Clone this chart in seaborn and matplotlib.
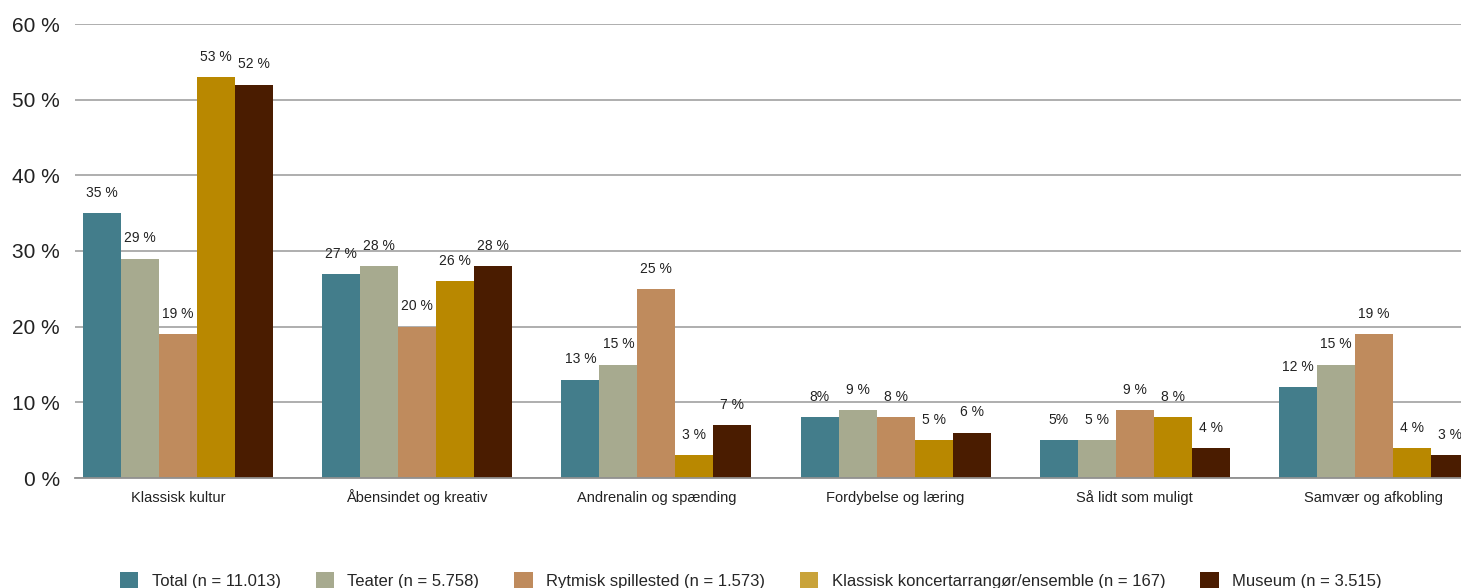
''' Motivation for kulturbesøg, fordelt på institutionstype '''

import matplotlib
matplotlib.use("Agg")
import matplotlib.pyplot as plt
from matplotlib.patches import Patch
import seaborn as sns
from pandas import DataFrame

categories = ["Klassisk kultur", "Åbensindet og kreativ", "Andrenalin og spænding",
              "Fordybelse og læring", "Så lidt som muligt", "Samvær og afkobling"]
groups = ["Total (n = 11.013)", "Teater (n = 5.758)", "Rytmisk spillested (n = 1.573)",
          "Klassisk koncertarrangør/ensemble (n = 167)", "Museum (n = 3.515)"]

total = [35, 27, 13, 8, 5, 12]
teater = [29, 28, 15, 9, 5, 15]
rytmisk = [19, 20, 25, 8, 9, 19]
klassisk = [53, 26, 3, 5, 8, 4]
museum = [52, 28, 7, 6, 4, 3]

# value labels as printed in the source (some lack the space)
total_labels = ["35 %", "27 %", "13 %", "8%", "5%", "12 %"]

bar_colors = ["#437d8b", "#a7aa8f", "#bf8b5d", "#b98800", "#4a1c00"]
legend_colors = ["#437d8b", "#a7aa8f", "#bf8b5d", "#c9a33a", "#4a1c00"]

y_ticks = [0, 10, 20, 30, 40, 50, 60]


def _main():
    series = [total, teater, rytmisk, klassisk, museum]
    rows = []
    for grp, vals in zip(groups, series):
        for cat, val in zip(categories, vals):
            rows.append({"kategori": cat, "gruppe": grp, "andel": val})
    data = DataFrame(rows)

    sns.set_style("white")
    plt.rcParams["font.family"] = ["Liberation Sans", "DejaVu Sans"]

    fig = plt.figure(figsize=(14.61, 5.88), dpi=100)
    ax = fig.add_axes([75 / 1461, 1 - 478 / 588, 1 - 75 / 1461, (478 - 24) / 588])

    sns.barplot(data=data, x="kategori", y="andel", hue="gruppe",
                order=categories, hue_order=groups, palette=bar_colors,
                saturation=1, width=0.795, gap=0, legend=False, ax=ax,
                linewidth=0, edgecolor="none", err_kws={"linewidth": 0})

    for idx, cont in enumerate(ax.containers):
        if idx == 0:
            labels = total_labels
        else:
            labels = [f"{v} %" for v in series[idx]]
        ax.bar_label(cont, labels=labels, padding=9.5, fontsize=10, color="#222222")

    ax.set_ylim(0, 60)
    ax.set_xlim(-0.431, 5.364)
    ax.set_yticks(y_ticks)
    ax.set_yticklabels([f"{t} %" for t in y_ticks], fontsize=15, color="#222222")
    ax.tick_params(axis="y", length=0, pad=11)
    ax.tick_params(axis="x", length=0, pad=17, labelsize=10.5, labelcolor="#222222")
    for lab in ax.get_xticklabels():
        lab.set_verticalalignment("baseline")
    ax.set_xlabel("")
    ax.set_ylabel("")
    ax.yaxis.grid(True, color="#a8a8a8", linewidth=1.3)
    ax.set_axisbelow(True)
    for side in ["top", "right", "left"]:
        ax.spines[side].set_visible(False)
    ax.spines["bottom"].set_color("#909090")
    ax.spines["bottom"].set_linewidth(1.3)

    handles = [Patch(facecolor=c, edgecolor="none") for c in legend_colors]
    fig.legend(handles, groups, loc="lower center", ncol=5, frameon=False,
               bbox_to_anchor=(0.514, -0.027), fontsize=12, handlelength=1.1,
               handleheight=1.1, columnspacing=2.1, handletextpad=0.8)

    plt.savefig("out.png", dpi=100)


if __name__ == "__main__":
    _main()
